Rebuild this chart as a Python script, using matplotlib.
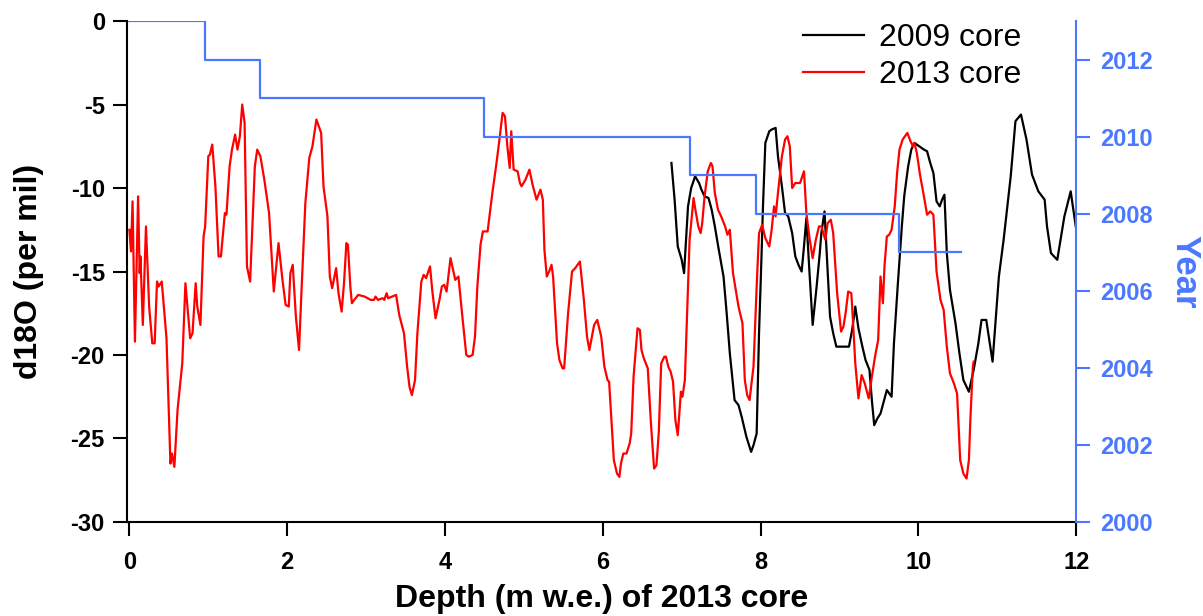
import matplotlib
matplotlib.use("Agg")
import matplotlib.pyplot as plt
import numpy as np

plt.rcParams['font.family'] = ['Liberation Sans', 'DejaVu Sans']
plt.rcParams['axes.unicode_minus'] = False

# 2013 core: depth (m w.e.) and d18O (per mil)
depth_2013 = [
    0.00, 0.02, 0.04, 0.07, 0.11, 0.13, 0.14, 0.17, 0.21, 0.25, 0.29, 0.32, 0.35, 0.37, 0.41,
    0.47, 0.52, 0.54, 0.57, 0.61, 0.67, 0.71, 0.77, 0.80, 0.84, 0.86, 0.90, 0.94, 0.96, 1.00,
    1.02, 1.05, 1.09, 1.13, 1.16, 1.21, 1.23, 1.27, 1.30, 1.34, 1.37, 1.40, 1.43, 1.46, 1.49,
    1.53, 1.59, 1.62, 1.66, 1.71, 1.77, 1.83, 1.89, 1.94, 1.98, 2.02, 2.04, 2.07, 2.11, 2.15,
    2.18, 2.21, 2.23, 2.28, 2.32, 2.37, 2.43, 2.46, 2.51, 2.54, 2.57, 2.62, 2.65, 2.69, 2.72,
    2.75, 2.77, 2.80, 2.82, 2.85, 2.90, 2.98, 3.06, 3.10, 3.12, 3.15, 3.21, 3.23, 3.26, 3.28,
    3.38, 3.42, 3.48, 3.52, 3.55, 3.58, 3.62, 3.65, 3.70, 3.73, 3.76, 3.81, 3.84, 3.88, 3.93,
    3.96, 3.99, 4.02, 4.07, 4.13, 4.17, 4.22, 4.27, 4.30, 4.35, 4.38, 4.41, 4.45, 4.48, 4.54,
    4.60, 4.65, 4.69, 4.73, 4.76, 4.79, 4.82, 4.84, 4.87, 4.92, 4.95, 4.97, 5.02, 5.07, 5.11,
    5.16, 5.21, 5.24, 5.26, 5.29, 5.32, 5.35, 5.37, 5.42, 5.45, 5.49, 5.51, 5.56, 5.61, 5.65,
    5.71, 5.76, 5.80, 5.83, 5.89, 5.93, 5.98, 6.02, 6.06, 6.08, 6.11, 6.14, 6.18, 6.21, 6.23,
    6.26, 6.30, 6.34, 6.36, 6.39, 6.44, 6.47, 6.49, 6.52, 6.57, 6.61, 6.65, 6.68, 6.71, 6.74,
    6.78, 6.80, 6.83, 6.86, 6.89, 6.92, 6.95, 6.99, 7.01, 7.04, 7.07, 7.10, 7.15, 7.17, 7.21,
    7.24, 7.26, 7.29, 7.33, 7.37, 7.39, 7.42, 7.46, 7.50, 7.55, 7.58, 7.61, 7.65, 7.72, 7.77,
    7.80, 7.83, 7.86, 7.91, 7.95, 7.98, 8.02, 8.06, 8.11, 8.14, 8.17, 8.19, 8.22, 8.27, 8.31,
    8.34, 8.37, 8.40, 8.44, 8.50, 8.55, 8.58, 8.62, 8.66, 8.70, 8.74, 8.77, 8.82, 8.85, 8.89,
    8.92, 8.97, 9.02, 9.05, 9.08, 9.11, 9.15, 9.17, 9.20, 9.24, 9.28, 9.32, 9.37, 9.41, 9.45,
    9.49, 9.52, 9.55, 9.57, 9.60, 9.63, 9.66, 9.70, 9.73, 9.76, 9.80, 9.86, 9.90, 9.93, 9.95,
    9.98, 10.02, 10.07, 10.11, 10.15, 10.19, 10.23, 10.28, 10.32, 10.36, 10.40, 10.45, 10.49,
    10.53, 10.57, 10.61, 10.64, 10.66, 10.69, 10.70]
d18o_2013 = [
    -12.5, -13.8, -10.8, -19.2, -10.5, -15.1, -14.1, -18.2, -12.3, -17.1, -19.3, -19.3, -15.6, -15.9, -15.6,
    -19.0, -26.5, -25.9, -26.7, -23.3, -20.5, -15.7, -19.0, -18.7, -15.7, -17.1, -18.2, -12.9, -12.3, -8.1,
    -8.0, -7.4, -9.9, -14.1, -14.1, -11.5, -11.6, -8.7, -7.7, -6.8, -7.7, -6.9, -5.0, -6.1, -14.7,
    -15.6, -8.7, -7.7, -8.1, -9.5, -11.5, -16.2, -13.3, -15.5, -17.0, -17.1, -15.1, -14.6, -17.7, -19.7,
    -16.3, -13.1, -10.9, -8.2, -7.5, -5.9, -6.7, -9.9, -11.7, -15.3, -16.0, -14.8, -16.3, -17.4, -15.7,
    -13.3, -13.4, -15.9, -16.9, -16.7, -16.4, -16.5, -16.7, -16.7, -16.5, -16.7, -16.6, -16.7, -16.3, -16.6,
    -16.4, -17.6, -18.7, -20.7, -21.9, -22.4, -21.5, -18.7, -15.6, -15.2, -15.4, -14.7, -16.2, -17.8, -16.7,
    -15.9, -15.8, -16.2, -14.2, -15.5, -15.3, -17.7, -20.0, -20.1, -20.0, -18.9, -15.9, -13.4, -12.6, -12.6,
    -10.3, -8.6, -7.1, -5.5, -5.7, -7.5, -8.8, -6.6, -8.9, -9.0, -9.7, -9.9, -9.5, -8.9, -9.8,
    -10.7, -10.1, -10.7, -13.7, -15.3, -15.0, -14.6, -15.3, -19.3, -20.3, -20.8, -20.8, -17.5, -15.0, -14.8,
    -14.4, -16.7, -18.9, -19.7, -18.2, -17.9, -18.9, -20.7, -21.5, -21.6, -23.9, -26.3, -27.1, -27.3, -26.5,
    -25.9, -25.9, -25.3, -24.7, -21.3, -18.4, -18.5, -19.7, -20.2, -20.8, -24.1, -26.8, -26.6, -24.6, -20.5,
    -20.1, -20.1, -20.7, -21.0, -21.6, -23.9, -24.8, -22.2, -22.5, -21.5, -17.3, -13.1, -10.6, -11.2, -12.3,
    -12.7, -12.1, -10.5, -9.0, -8.5, -8.7, -10.3, -11.3, -11.7, -12.3, -12.8, -12.5, -15.1, -17.1, -18.1,
    -21.5, -22.4, -22.7, -20.7, -15.9, -12.7, -12.2, -13.0, -13.5, -12.5, -11.1, -11.7, -10.3, -8.1, -7.1,
    -6.9, -7.5, -10.0, -9.7, -9.7, -9.0, -11.5, -13.0, -14.2, -13.1, -12.3, -12.3, -13.1, -12.1, -11.9,
    -12.7, -16.3, -18.6, -18.3, -17.4, -16.2, -16.3, -17.9, -20.5, -22.6, -21.2, -21.7, -22.6, -21.3, -20.1,
    -19.1, -15.3, -16.9, -14.7, -12.9, -12.8, -12.5, -11.1, -9.1, -7.7, -7.1, -6.7, -7.2, -7.5, -7.3,
    -7.9, -9.2, -10.5, -11.6, -11.4, -11.6, -15.0, -16.7, -17.3, -19.5, -21.1, -21.7, -22.3,
    -26.3, -27.1, -27.4, -26.3, -23.7, -20.7, -20.4]

# 2009 core on the 2013 depth scale
depth_2009 = [
    6.87, 6.91, 6.95, 7.00, 7.03, 7.08, 7.12, 7.17, 7.22, 7.25, 7.29, 7.34, 7.38, 7.42, 7.47,
    7.53, 7.57, 7.61, 7.67, 7.72, 7.76, 7.82, 7.88, 7.91, 7.95, 7.98, 8.01, 8.03, 8.06, 8.11,
    8.14, 8.19, 8.22, 8.27, 8.31, 8.35, 8.40, 8.44, 8.48, 8.52, 8.55, 8.58, 8.62, 8.66, 8.71,
    8.75, 8.77, 8.81, 8.84, 8.88, 8.92, 8.96, 9.03, 9.12, 9.16, 9.20, 9.24, 9.29, 9.33, 9.38,
    9.41, 9.44, 9.48, 9.52, 9.56, 9.60, 9.63, 9.66, 9.69, 9.74, 9.79, 9.82, 9.87, 9.91, 9.95,
    10.01, 10.07, 10.11, 10.15, 10.19, 10.23, 10.27, 10.30, 10.33, 10.36, 10.40, 10.47, 10.52,
    10.57, 10.64, 10.70, 10.76, 10.80, 10.86, 10.94, 11.02, 11.08, 11.17, 11.23, 11.30, 11.37,
    11.44, 11.52, 11.60, 11.63, 11.68, 11.76, 11.85, 11.93, 12.01]
d18o_2009 = [
    -8.5, -10.7, -13.5, -14.3, -15.1, -11.1, -10.0, -9.3, -9.7, -10.1, -10.5, -10.6, -11.3, -12.3, -13.7,
    -15.3, -17.5, -19.9, -22.7, -23.0, -23.7, -24.9, -25.8, -25.4, -24.7, -18.7, -14.3, -11.1, -7.3, -6.6,
    -6.5, -6.4, -8.1, -9.9, -11.5, -11.7, -12.7, -14.1, -14.6, -15.0, -13.5, -11.8, -15.1, -18.2, -15.9,
    -13.9, -12.7, -11.4, -14.1, -17.7, -18.7, -19.5, -19.5, -19.5, -18.5, -17.1, -18.4, -19.5, -20.3, -20.9,
    -22.7, -24.2, -23.8, -23.5, -22.8, -22.1, -22.3, -22.5, -19.3, -15.7, -12.3, -10.5, -8.7, -7.7, -7.3,
    -7.5, -7.7, -7.8, -8.5, -9.1, -10.8, -11.1, -10.7, -10.4, -13.9, -16.1, -18.1, -19.9,
    -21.5, -22.2, -20.9, -19.3, -17.9, -17.9, -20.4, -15.3, -13.1, -9.3, -6.0, -5.6, -7.1,
    -9.2, -10.2, -10.7, -12.3, -13.9, -14.3, -11.7, -10.2, -12.8]

# annual layers: depth where each year starts
year_depth = [0.0, 0.96, 1.66, 4.50, 7.11, 7.94, 9.75, 10.54]
years = [2013, 2012, 2011, 2010, 2009, 2008, 2007, 2007]

blue = '#4a78ff'

fig = plt.figure(figsize=(12.03, 6.16), dpi=100)
ax = fig.add_axes([0.1056, 0.1526, 0.789, 0.8133])

ax.plot(depth_2009, d18o_2009, color='black', lw=1.6, label='2009 core')
ax.plot(depth_2013, d18o_2013, color='red', lw=1.6, label='2013 core')

ax.set_xlim(-0.03, 12.0)
ax.set_ylim(-30, 0)
ax.set_xticks(np.arange(0, 13, 2))
ax.set_yticks(np.arange(-30, 1, 5))
ax.spines['top'].set_visible(False)
ax.spines['right'].set_visible(False)
for s in ['left', 'bottom']:
    ax.spines[s].set_linewidth(1.5)
ax.tick_params(direction='out', length=10, width=1.5, labelsize=17)
ax.tick_params(axis='x', pad=11)
ax.tick_params(axis='y', pad=6)
for lab in ax.get_xticklabels() + ax.get_yticklabels():
    lab.set_fontweight('bold')
ax.set_xlabel('Depth (m w.e.) of 2013 core', fontsize=23, fontweight='bold')
ax.set_ylabel('d18O (per mil)', fontsize=23, fontweight='bold')
ax.xaxis.set_label_coords(0.5, -0.124)
ax.yaxis.set_label_coords(-0.088, 0.5)

ax.legend(loc='upper right', bbox_to_anchor=(0.972, 1.053), frameon=False,
          fontsize=23, handlelength=1.9, handletextpad=0.47, labelspacing=0.22)

ax2 = ax.twinx()
ax2.plot(year_depth, years, drawstyle='steps-post', color=blue, lw=1.6)
ax2.set_ylim(2000, 2013)
ax2.set_yticks(np.arange(2000, 2013, 2))
for s in ['top', 'left', 'bottom']:
    ax2.spines[s].set_visible(False)
ax2.spines['right'].set_color(blue)
ax2.spines['right'].set_linewidth(1.5)
ax2.tick_params(axis='y', colors=blue, direction='out', length=10, width=1.5, labelsize=17, pad=7)
for lab in ax2.get_yticklabels():
    lab.set_fontweight('bold')
ax2.set_ylabel('Year', color=blue, fontsize=25, fontweight='bold', rotation=270)
ax2.yaxis.set_label_coords(1.132, 0.5)

fig.savefig('out.png', dpi=100)
